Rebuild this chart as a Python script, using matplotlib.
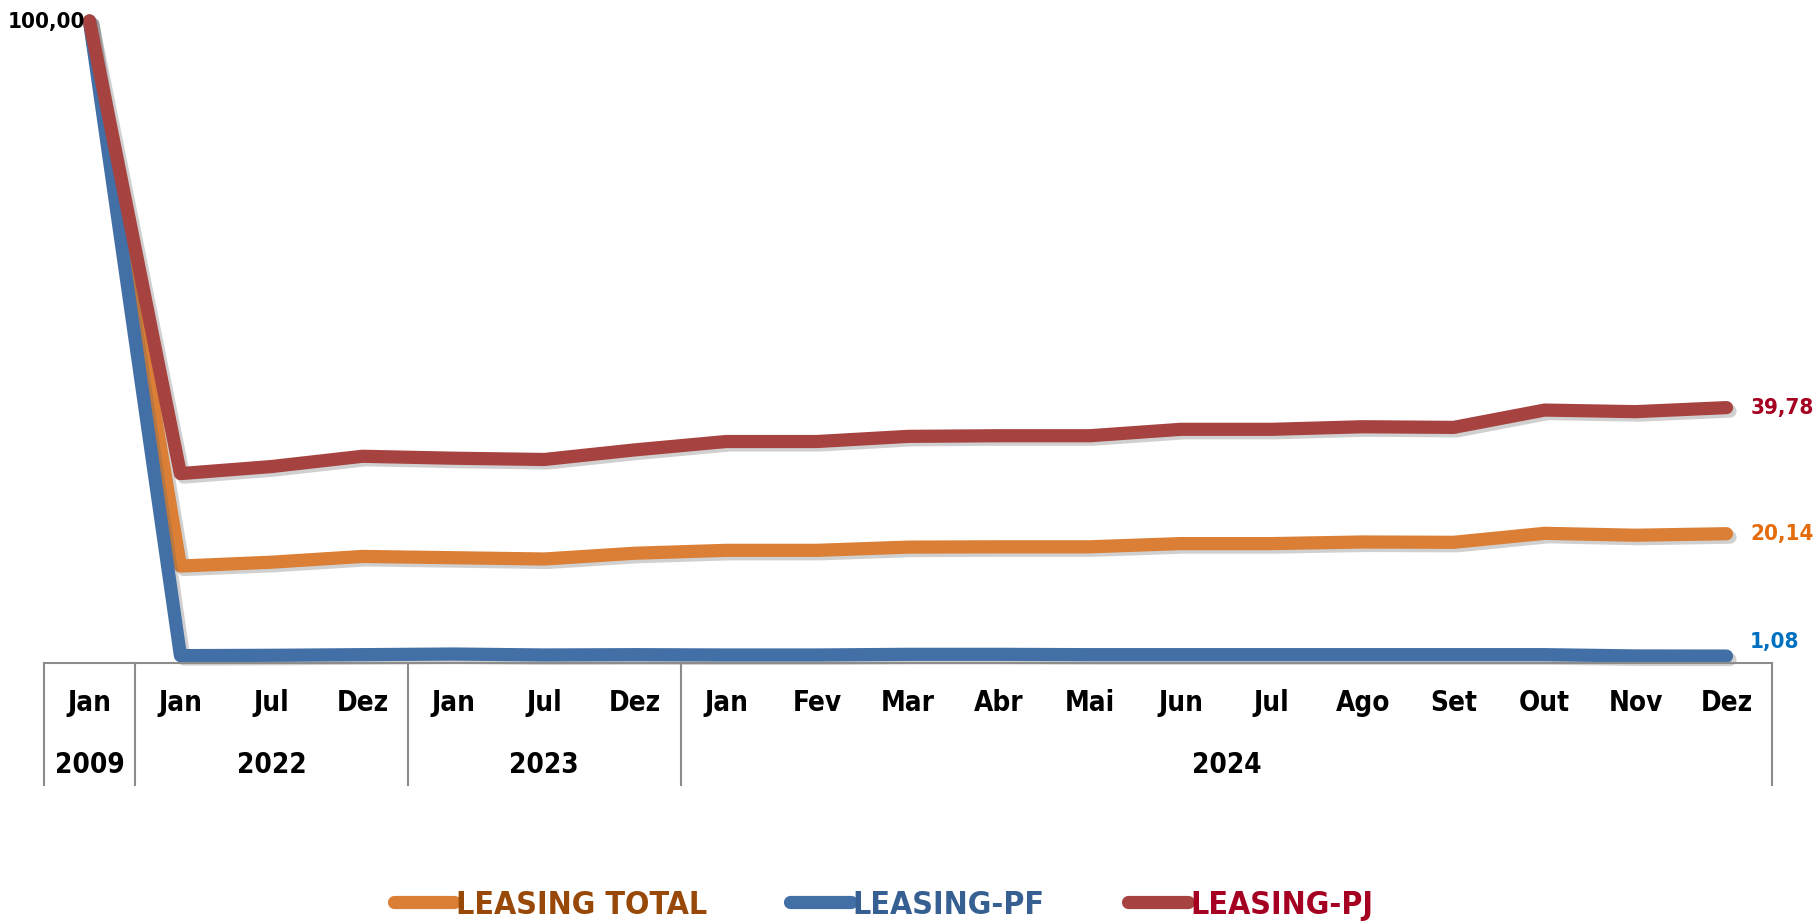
import numpy as np
import matplotlib
matplotlib.use('Agg')
import matplotlib.pyplot as plt
import matplotlib.patheffects as pe
from matplotlib.lines import Line2D

plt.rcParams['font.family'] = ['DejaVu Sans']
plt.rcParams['font.stretch'] = 'condensed'
plt.rcParams['font.weight'] = 'bold'

# dados (índice, Jan 2009 = 100)
meses = ['Jan', 'Jan', 'Jul', 'Dez', 'Jan', 'Jul', 'Dez',
         'Jan', 'Fev', 'Mar', 'Abr', 'Mai', 'Jun', 'Jul', 'Ago', 'Set', 'Out', 'Nov', 'Dez']
anos = ['2009', '2022', '2023', '2024']
anos_tam = [1, 3, 3, 12]

leasing_total = [100.00, 15.1, 15.7, 16.6, 16.4, 16.2, 17.1,
                 17.55, 17.55, 18.05, 18.1, 18.1, 18.6, 18.6, 18.85, 18.8, 20.2, 19.9, 20.14]
leasing_pf = [100.00, 1.15, 1.2, 1.3, 1.4, 1.25, 1.3,
              1.25, 1.25, 1.35, 1.35, 1.3, 1.3, 1.3, 1.3, 1.3, 1.3, 1.1, 1.08]
leasing_pj = [100.00, 29.5, 30.6, 32.2, 31.9, 31.7, 33.2,
              34.5, 34.5, 35.3, 35.4, 35.4, 36.4, 36.4, 36.8, 36.7, 39.4, 39.15, 39.78]

series = [('LEASING TOTAL', leasing_total, '#DA7F35', '#984807'),
          ('LEASING-PF', leasing_pf, '#426FA5', '#376092'),
          ('LEASING-PJ', leasing_pj, '#A6423F', '#A50021')]

W, H = 1814, 921
fig = plt.figure(figsize=(W / 100, H / 100), dpi=100)
ax = fig.add_axes([44 / W, (H - 663) / H, (1772 - 44) / W, (663 - 21) / H])

x = np.arange(len(meses))
sombra = [pe.SimpleLineShadow(offset=(2.5, -2.5), shadow_color='#666666', alpha=0.3),
          pe.Normal()]

handles = []
for nome, vals, cor, cor_txt in series:
    ax.plot(x, vals, color=cor, linewidth=9.5, solid_capstyle='round',
            solid_joinstyle='round', path_effects=sombra, clip_on=False)
    handles.append(Line2D([], [], color=cor, linewidth=9.5, solid_capstyle='round'))

# rótulos de valores
ax.annotate('100,00', (x[0], leasing_pj[0]), xytext=(-3, -1), textcoords='offset points',
            ha='right', va='center', fontsize=16, color='black')
ax.annotate('39,78', (x[-1], leasing_pj[-1]), xytext=(17, 0), textcoords='offset points',
            ha='left', va='center', fontsize=16, color='#A50021')
ax.annotate('20,14', (x[-1], leasing_total[-1]), xytext=(17, 0), textcoords='offset points',
            ha='left', va='center', fontsize=16, color='#E46C0A')
ax.annotate('1,08', (x[-1], leasing_pf[-1]), xytext=(17, 10), textcoords='offset points',
            ha='left', va='center', fontsize=16, color='#0070C0')

ax.set_xlim(-0.5, len(meses) - 0.5)
ax.set_ylim(0, 100)
for s in ['top', 'left', 'right']:
    ax.spines[s].set_visible(False)
ax.spines['bottom'].set_color('#8C8C8C')
ax.spines['bottom'].set_linewidth(1.5)
ax.set_xticks([])
ax.set_yticks([])

# eixo de categorias em dois níveis
tr = ax.get_xaxis_transform()
for i, m in enumerate(meses):
    ax.text(i, -0.062, m, transform=tr, ha='center', va='center', fontsize=20)

fundo = -(785 - 663) / 642
pos = -0.5
ax.plot([pos, pos], [0, fundo], transform=tr, color='#8C8C8C', lw=1.5, clip_on=False)
for ano, n in zip(anos, anos_tam):
    ax.text(pos + n / 2, -0.159, ano, transform=tr, ha='center', va='center', fontsize=20)
    pos += n
    ax.plot([pos, pos], [0, fundo], transform=tr, color='#8C8C8C', lw=1.5, clip_on=False)

leg = fig.legend(handles, [s[0] for s in series], loc='center',
                 bbox_to_anchor=(0.487, 1 - 905 / H), ncol=3, frameon=False,
                 fontsize=23, handlelength=1.9, handletextpad=0.05, columnspacing=2.6)
for t, s in zip(leg.get_texts(), series):
    t.set_color(s[3])

fig.savefig('out.png', dpi=100)
